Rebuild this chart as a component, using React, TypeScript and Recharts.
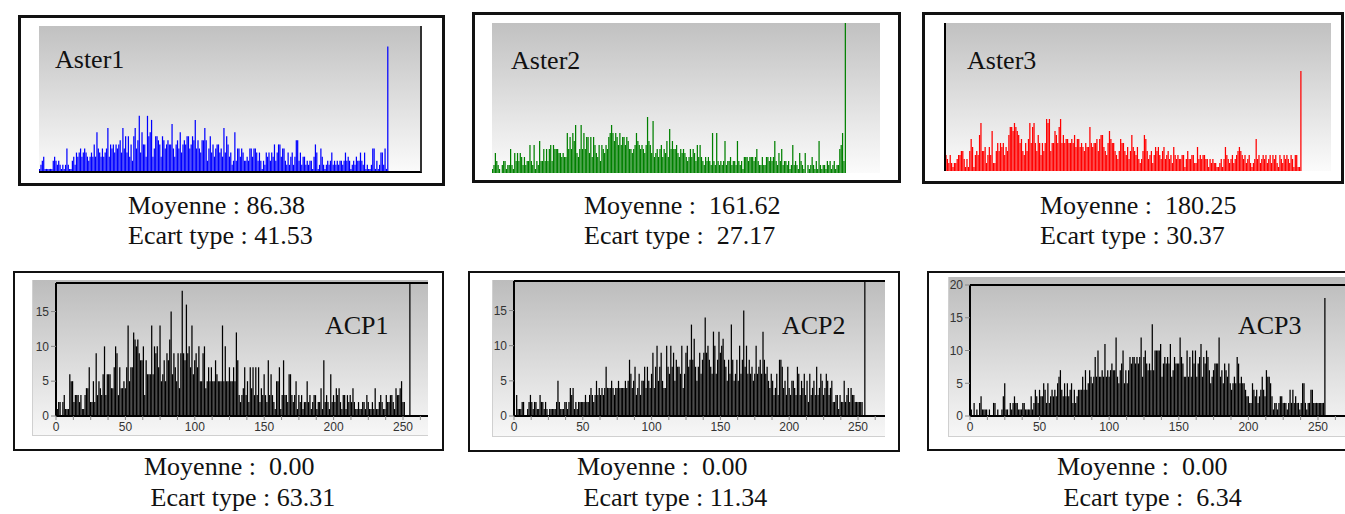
import React from "react";
import { BarChart, Bar, XAxis, YAxis } from "recharts";

// Histogram counts per grey level (bins 0..255)
const aster1Counts = [
  1, 2, 3, 4, 1, 1, 1, 1, 1, 1, 3, 4, 3, 2, 3, 2,
  1, 2, 1, 2, 6, 2, 1, 1, 3, 4, 2, 5, 4, 5, 6, 4,
  5, 6, 5, 4, 3, 4, 5, 4, 7, 4, 10, 6, 5, 4, 6, 4,
  5, 6, 11, 4, 7, 6, 7, 5, 7, 6, 7, 8, 5, 11, 6, 9,
  5, 9, 4, 7, 3, 9, 11, 6, 8, 14, 5, 10, 7, 7, 4, 14,
  9, 10, 13, 4, 6, 9, 9, 8, 7, 4, 9, 8, 6, 7, 8, 7,
  7, 12, 6, 4, 7, 8, 6, 10, 5, 7, 8, 7, 9, 9, 6, 7,
  9, 8, 13, 6, 8, 6, 5, 8, 8, 11, 8, 3, 6, 9, 5, 7,
  4, 6, 7, 7, 5, 6, 4, 11, 5, 9, 7, 4, 5, 2, 3, 10,
  3, 6, 6, 4, 6, 5, 3, 3, 4, 3, 6, 6, 4, 6, 6, 5,
  3, 5, 3, 1, 3, 2, 5, 4, 5, 3, 5, 4, 7, 3, 5, 7,
  7, 4, 6, 6, 3, 2, 5, 2, 4, 5, 2, 4, 8, 8, 3, 5,
  2, 4, 4, 2, 3, 2, 3, 3, 1, 4, 7, 5, 1, 2, 6, 4,
  2, 1, 2, 3, 2, 3, 5, 2, 3, 2, 3, 2, 3, 3, 2, 3,
  5, 3, 4, 3, 1, 2, 3, 2, 4, 3, 3, 5, 3, 2, 5, 1,
  2, 1, 1, 2, 6, 6, 1, 3, 1, 2, 5, 5, 2, 6, 1, 31,
];

const aster2Counts = [
  1, 2, 5, 3, 2, 1, 0, 2, 3, 3, 1, 2, 2, 6, 2, 1,
  5, 3, 5, 3, 5, 4, 2, 4, 2, 3, 3, 7, 3, 2, 7, 1,
  3, 2, 8, 3, 3, 6, 3, 6, 3, 6, 7, 3, 7, 6, 6, 6,
  5, 5, 4, 5, 4, 4, 10, 6, 9, 6, 10, 8, 12, 5, 4, 6,
  12, 6, 10, 6, 9, 9, 5, 9, 4, 9, 7, 5, 4, 7, 3, 7,
  6, 5, 7, 6, 9, 10, 12, 10, 8, 10, 9, 7, 10, 7, 9, 9,
  7, 9, 8, 6, 6, 5, 6, 7, 10, 8, 7, 6, 7, 6, 5, 7,
  14, 8, 7, 5, 13, 4, 5, 6, 4, 6, 7, 4, 6, 5, 8, 4,
  11, 6, 8, 6, 6, 7, 5, 4, 6, 5, 6, 5, 4, 3, 4, 6,
  4, 6, 5, 3, 7, 4, 7, 4, 3, 2, 4, 3, 4, 3, 2, 10,
  3, 2, 10, 3, 2, 3, 2, 3, 8, 2, 3, 3, 4, 2, 3, 3,
  2, 8, 3, 2, 3, 1, 4, 4, 4, 3, 4, 4, 4, 3, 4, 6,
  3, 2, 2, 4, 2, 2, 4, 4, 3, 4, 3, 4, 8, 3, 2, 5,
  3, 6, 2, 3, 3, 2, 3, 1, 2, 7, 2, 3, 2, 1, 5, 3,
  2, 1, 5, 0, 2, 1, 2, 4, 2, 1, 3, 1, 8, 2, 1, 2,
  2, 1, 3, 2, 3, 1, 2, 3, 1, 2, 2, 6, 7, 10, 3, 38,
];

const aster3Counts = [
  3, 4, 3, 2, 4, 2, 1, 2, 2, 3, 4, 4, 5, 5, 3, 1,
  3, 1, 5, 8, 6, 1, 4, 5, 4, 9, 12, 5, 5, 6, 2, 4,
  6, 4, 10, 2, 2, 5, 7, 5, 7, 6, 7, 4, 6, 5, 9, 11,
  11, 10, 12, 11, 10, 9, 7, 8, 5, 4, 7, 5, 8, 12, 7, 11,
  12, 7, 5, 9, 7, 4, 7, 5, 7, 13, 12, 13, 5, 7, 7, 10,
  9, 7, 11, 13, 7, 9, 7, 8, 8, 7, 7, 8, 7, 9, 6, 8,
  8, 6, 7, 6, 5, 7, 6, 6, 11, 7, 6, 7, 7, 8, 5, 8,
  9, 9, 6, 5, 4, 7, 10, 8, 7, 7, 5, 4, 3, 5, 8, 7,
  7, 5, 4, 6, 3, 5, 9, 6, 5, 4, 6, 3, 2, 3, 5, 9,
  8, 5, 3, 4, 5, 2, 4, 6, 5, 6, 4, 3, 5, 6, 3, 4,
  5, 3, 4, 2, 6, 4, 3, 4, 3, 3, 4, 4, 1, 3, 5, 3,
  3, 4, 4, 2, 2, 6, 3, 4, 3, 4, 4, 3, 3, 1, 3, 2,
  3, 2, 2, 1, 1, 2, 3, 1, 3, 6, 4, 3, 2, 3, 4, 2,
  3, 4, 5, 6, 5, 4, 3, 4, 2, 3, 4, 2, 1, 2, 3, 8,
  3, 4, 2, 3, 4, 3, 4, 2, 3, 4, 2, 4, 3, 4, 2, 1,
  4, 3, 2, 4, 3, 4, 3, 2, 4, 3, 1, 4, 4, 1, 1, 25,
];

const acp1Counts = [
  0, 1, 2, 2, 0, 2, 3, 1, 1, 1,
  6, 5, 5, 2, 3, 3, 3, 2, 3, 1,
  1, 3, 4, 4, 7, 2, 2, 5, 2, 9,
  3, 5, 4, 3, 6, 10, 3, 6, 6, 6,
  4, 4, 7, 10, 9, 3, 7, 4, 4, 5,
  4, 7, 13, 5, 7, 7, 12, 11, 10, 11,
  9, 8, 8, 10, 3, 8, 6, 6, 6, 13,
  6, 10, 9, 10, 7, 13, 5, 6, 8, 5,
  9, 8, 11, 15, 6, 9, 7, 5, 9, 4,
  9, 18, 9, 8, 16, 9, 10, 7, 13, 6,
  8, 9, 7, 10, 5, 5, 9, 10, 4, 5,
  7, 5, 7, 5, 5, 8, 6, 5, 5, 5,
  13, 5, 10, 5, 5, 7, 5, 5, 7, 5,
  12, 8, 3, 2, 3, 4, 7, 3, 5, 2,
  7, 4, 7, 3, 7, 3, 7, 2, 4, 3,
  6, 3, 2, 8, 3, 6, 3, 2, 1, 5,
  5, 7, 1, 3, 8, 3, 3, 2, 6, 6,
  3, 2, 3, 5, 1, 3, 2, 3, 1, 2,
  2, 5, 2, 3, 1, 2, 3, 3, 1, 2,
  2, 4, 1, 8, 2, 3, 2, 1, 6, 2,
  3, 2, 4, 3, 4, 2, 1, 3, 3, 1,
  3, 2, 3, 2, 4, 2, 1, 1, 2, 1,
  1, 2, 2, 1, 3, 2, 1, 1, 2, 1,
  4, 1, 1, 2, 3, 2, 1, 1, 3, 2,
  2, 3, 3, 2, 1, 4, 3, 3, 4, 5,
  2, 2, 0, 0, 0, 25,
];

const acp2Counts = [
  0, 0, 3, 1, 1, 1, 2, 2, 0, 0,
  1, 2, 3, 2, 1, 2, 2, 1, 1, 3,
  2, 2, 1, 2, 1, 0, 1, 1, 1, 1,
  1, 2, 5, 2, 1, 1, 1, 2, 2, 1,
  2, 4, 3, 4, 1, 2, 1, 2, 2, 2,
  2, 2, 3, 2, 2, 3, 4, 3, 2, 3,
  5, 3, 4, 3, 4, 3, 4, 7, 4, 4,
  4, 5, 4, 3, 4, 4, 5, 4, 4, 4,
  4, 5, 4, 5, 8, 6, 4, 5, 7, 3,
  4, 6, 3, 5, 5, 7, 4, 7, 5, 4,
  6, 9, 4, 7, 10, 5, 7, 9, 5, 4,
  4, 10, 7, 6, 10, 7, 9, 5, 8, 7,
  7, 6, 10, 4, 6, 9, 10, 7, 8, 13,
  8, 11, 7, 5, 7, 9, 6, 8, 9, 14,
  9, 10, 8, 7, 6, 12, 10, 6, 8, 12,
  9, 10, 11, 8, 7, 5, 8, 6, 13, 8,
  5, 6, 8, 5, 10, 6, 8, 15, 7, 10,
  6, 8, 6, 7, 5, 6, 10, 6, 7, 8,
  6, 12, 8, 6, 7, 5, 4, 6, 5, 3,
  4, 6, 3, 8, 8, 7, 4, 5, 3, 7,
  4, 3, 5, 5, 4, 3, 7, 6, 3, 5,
  4, 6, 3, 5, 2, 6, 3, 4, 5, 3,
  7, 3, 4, 6, 5, 3, 4, 6, 5, 3,
  4, 5, 2, 2, 3, 3, 1, 3, 2, 2,
  5, 2, 3, 4, 2, 4, 3, 3, 2, 2,
  2, 2, 2, 2, 0, 25,
];

const acp3Counts = [
  1, 1, 0, 2, 0, 1, 0, 2, 3, 1,
  1, 1, 1, 0, 1, 0, 0, 2, 2, 0,
  1, 0, 0, 1, 3, 5, 1, 1, 0, 2,
  1, 2, 3, 2, 2, 1, 1, 1, 2, 2,
  1, 1, 1, 1, 3, 1, 2, 4, 3, 2,
  4, 3, 3, 5, 4, 2, 5, 2, 3, 4,
  3, 4, 3, 5, 6, 7, 4, 3, 5, 3,
  5, 3, 4, 5, 2, 4, 2, 3, 4, 4,
  4, 6, 4, 7, 4, 5, 7, 6, 5, 6,
  9, 6, 10, 6, 6, 7, 6, 11, 6, 7,
  6, 7, 8, 7, 7, 12, 6, 5, 7, 8,
  10, 5, 7, 5, 7, 9, 8, 9, 9, 8,
  9, 8, 9, 12, 6, 9, 10, 8, 7, 8,
  7, 14, 7, 10, 10, 10, 10, 11, 6, 8,
  9, 8, 9, 8, 11, 6, 7, 9, 8, 8,
  8, 12, 9, 8, 6, 6, 10, 6, 9, 6,
  10, 8, 10, 6, 8, 9, 11, 6, 9, 8,
  10, 9, 7, 5, 6, 7, 8, 8, 8, 12,
  6, 7, 5, 8, 7, 6, 8, 5, 4, 5,
  6, 5, 9, 8, 5, 6, 5, 5, 4, 3,
  3, 2, 2, 5, 4, 3, 4, 2, 3, 4,
  6, 4, 3, 7, 6, 6, 5, 3, 1, 2,
  2, 1, 2, 3, 3, 2, 2, 2, 1, 2,
  4, 2, 4, 2, 3, 2, 2, 1, 2, 5,
  5, 2, 1, 2, 2, 4, 4, 2, 2, 2,
  2, 2, 2, 2, 2, 18,
];

const asterTitles = ["Aster1", "Aster2", "Aster3"];
const acpTitles = ["ACP1", "ACP2", "ACP3"];
const asterMoyennes = ["Moyenne : 86.38", "Moyenne :  161.62", "Moyenne :  180.25"];
const asterEcarts = ["Ecart type : 41.53", "Ecart type :  27.17", "Ecart type : 30.37"];
const acpMoyennes = ["Moyenne :  0.00", "Moyenne :  0.00", "Moyenne :  0.00"];
const acpEcarts = [" Ecart type : 63.31", " Ecart type : 11.34", " Ecart type :  6.34"];

// x ticks every 12.5, labelled every 50
const acpXTicks = [0, 12.5, 25, 37.5, 50, 62.5, 75, 87.5, 100, 112.5, 125, 137.5, 150,
  162.5, 175, 187.5, 200, 212.5, 225, 237.5, 250, 262.5];
const acpXLabels = [0, 50, 100, 150, 200, 250];
const acpYTicks = [0, 5, 10, 15];
const acp3YTicks = [0, 5, 10, 15, 20];

const toRows = (counts: number[]) => counts.map((count, bin) => ({ bin, count }));

const SERIF = '"Liberation Serif", "Times New Roman", serif';
const SANS = '"Liberation Sans", Arial, sans-serif';

type Box = { left: number; top: number; width: number; height: number };

const asterPanels = [
  {
    frame: { left: 18, top: 15, width: 427, height: 171 },
    plot: { left: 39, top: 26, width: 383, height: 147 },
    counts: aster1Counts, color: "#0000ff", xMax: 280, yMax: 36,
    title: { left: 55, top: 47 },
    borders: { borderBottom: "2px solid #000", borderRight: "2px solid #333" },
    text: { left: 128 },
  },
  {
    frame: { left: 472, top: 12, width: 429, height: 171 },
    plot: { left: 492, top: 23, width: 388, height: 150 },
    counts: aster2Counts, color: "#008000", xMax: 280, yMax: 37.5,
    title: { left: 511, top: 48 },
    borders: {},
    text: { left: 584 },
  },
  {
    frame: { left: 922, top: 12, width: 422, height: 172 },
    plot: { left: 944, top: 23, width: 387, height: 148 },
    counts: aster3Counts, color: "#ff0000", xMax: 276.5, yMax: 37,
    title: { left: 967, top: 48 },
    borders: { borderLeft: "2px solid #000" },
    text: { left: 1040 },
  },
];

const acpPanels = [
  {
    frame: { left: 13, top: 271, width: 431, height: 180 },
    area: { left: 32, top: 280, width: 396, height: 156 },
    yWidth: 24, mTop: 3, xHeight: 20, xMax: 268, yMax: 19.1, yTicks: acpYTicks,
    counts: acp1Counts, title: { left: 325, top: 313 },
    text: { left: 144 },
  },
  {
    frame: { left: 468, top: 271, width: 432, height: 181 },
    area: { left: 492, top: 280, width: 393, height: 157 },
    yWidth: 22, mTop: 1, xHeight: 21, xMax: 269.6, yMax: 19.2, yTicks: acpYTicks,
    counts: acp2Counts, title: { left: 782, top: 313 },
    text: { left: 577 },
  },
  {
    frame: { left: 927, top: 271, width: 430, height: 180 },
    area: { left: 948, top: 277, width: 397, height: 160 },
    yWidth: 22, mTop: 8, xHeight: 21, xMax: 269.4, yMax: 20, yTicks: acp3YTicks,
    counts: acp3Counts, title: { left: 1238, top: 313 },
    text: { left: 1057 },
  },
];

const abs = (b: Box): React.CSSProperties => ({
  position: "absolute", left: b.left, top: b.top, width: b.width, height: b.height,
});

const Label = ({ left, top, children, size = 26 }: { left: number; top: number; children: string; size?: number }) => (
  <div style={{ position: "absolute", left, top, fontFamily: SERIF, fontSize: size, lineHeight: `${size}px`, whiteSpace: "pre", color: "#111" }}>
    {children}
  </div>
);

const tickStyle = { fontSize: 12, fill: "#333", fontFamily: SANS };
const xLabel = (v: number) => (acpXLabels.includes(v) ? String(v) : "");

export default function App() {
  return (
    <div style={{ position: "fixed", left: 0, top: 0, width: 1345, height: 514, overflow: "hidden", background: "#fff" }}>
      {asterPanels.map((p, i) => (
        <React.Fragment key={asterTitles[i]}>
          <div style={{ ...abs(p.frame), border: "3px solid #111", boxSizing: "border-box" }} />
          <div style={{ ...abs(p.plot), background: "linear-gradient(#c1c1c1, #fbfbfb)" }}>
            <BarChart width={p.plot.width} height={p.plot.height} data={toRows(p.counts)} margin={{ top: 0, right: 0, bottom: 0, left: 0 }}>
              <XAxis dataKey="bin" type="number" domain={[-0.5, p.xMax]} hide />
              <YAxis type="number" domain={[0, p.yMax]} hide allowDataOverflow />
              <Bar dataKey="count" fill={p.color} barSize={1.5} isAnimationActive={false} />
            </BarChart>
          </div>
          <div style={{ ...abs(p.plot), ...p.borders, boxSizing: "border-box", pointerEvents: "none" }} />
          <Label left={p.title.left} top={p.title.top}>{asterTitles[i]}</Label>
          <Label left={p.text.left} top={193}>{asterMoyennes[i]}</Label>
          <Label left={p.text.left} top={223}>{asterEcarts[i]}</Label>
        </React.Fragment>
      ))}
      {acpPanels.map((p, i) => (
        <React.Fragment key={acpTitles[i]}>
          <div style={{ ...abs(p.frame), border: "2px solid #111", boxSizing: "border-box" }} />
          <div style={{ ...abs(p.area), background: "linear-gradient(#bcbcbc, #f7f7f7)", borderLeft: "1px solid #d0d0d0", borderBottom: "1px solid #d0d0d0", boxSizing: "border-box" }}>
            <BarChart width={p.area.width - 1} height={p.area.height - 1} data={toRows(p.counts)} margin={{ top: p.mTop, right: 0, bottom: 0, left: 0 }}>
              <XAxis dataKey="bin" type="number" domain={[0, p.xMax]} ticks={acpXTicks} interval={0}
                tickFormatter={xLabel}
                height={p.xHeight - 1} tickSize={4} tick={tickStyle} tickLine={{ stroke: "#888" }}
                axisLine={{ stroke: "#000", strokeWidth: 2 }} allowDataOverflow />
              <YAxis type="number" domain={[0, p.yMax]} ticks={p.yTicks} interval={0}
                width={p.yWidth - 1} tickSize={5} tick={tickStyle} tickLine={{ stroke: "#888" }}
                axisLine={{ stroke: "#000", strokeWidth: 2 }} allowDataOverflow />
              <Bar dataKey="count" fill="#000" barSize={1.4} isAnimationActive={false} />
            </BarChart>
          </div>
          <div style={{
            position: "absolute", left: p.area.left + p.yWidth, top: p.area.top + p.mTop - 1,
            width: p.area.width - p.yWidth, height: 2, background: "#000",
          }} />
          <Label left={p.title.left} top={p.title.top}>{acpTitles[i]}</Label>
          <Label left={p.text.left} top={454}>{acpMoyennes[i]}</Label>
          <Label left={p.text.left} top={485}>{acpEcarts[i]}</Label>
        </React.Fragment>
      ))}
    </div>
  );
}
